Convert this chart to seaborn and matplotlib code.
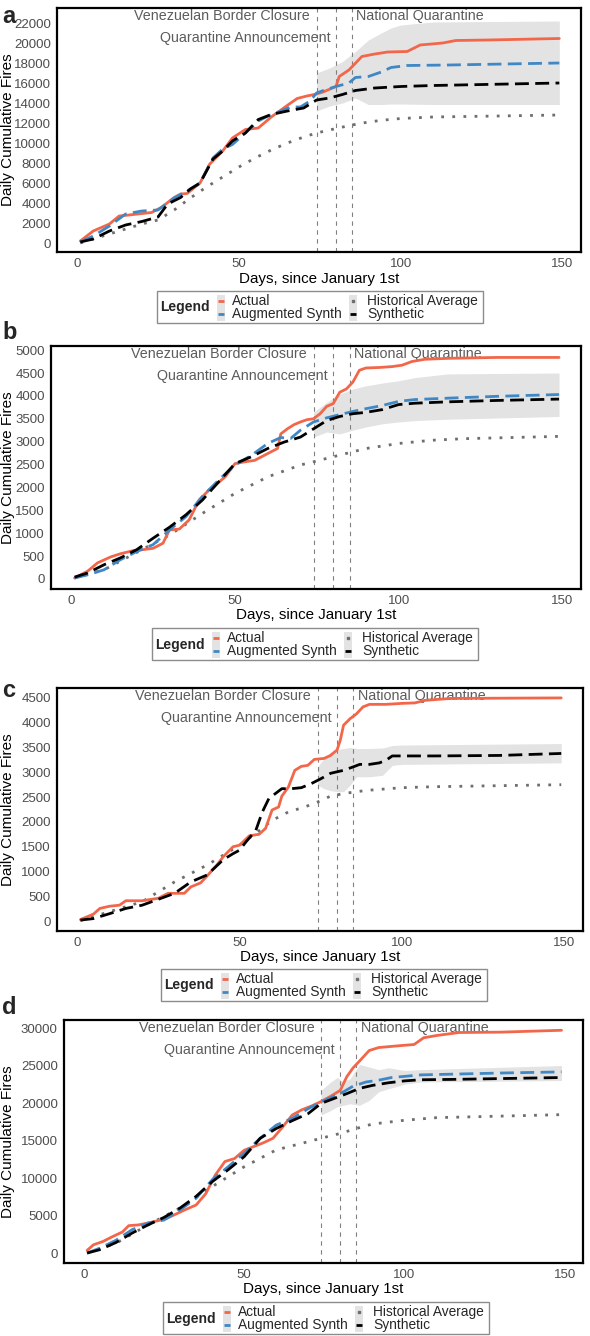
import matplotlib
matplotlib.use("Agg")
import matplotlib.pyplot as plt
import matplotlib.transforms as mtransforms
from matplotlib.lines import Line2D
from matplotlib.patches import Rectangle
import seaborn as sns
import pandas as pd

# ---------------- data ----------------
event_days = [74, 80, 85]

# panel a
a_act_days = [1, 5, 10, 13, 16, 23, 26, 30, 32, 34, 38, 41, 45, 48, 52, 56, 60, 66, 68, 71, 74, 76, 80, 81, 84, 88, 92, 96, 102, 106, 113, 117, 127, 149]
a_act = [200, 1200, 1900, 2700, 2800, 3050, 3550, 4550, 4900, 4950, 6000, 7900, 9200, 10500, 11350, 11500, 12600, 14000, 14450, 14700, 14900, 15100, 15650, 16650, 17300, 18650, 18900, 19100, 19150, 19800, 20000, 20250, 20300, 20450]
a_aug_days = [1, 5, 10, 15, 20, 25, 30, 35, 38, 42, 45, 48, 52, 56, 59, 63, 66, 69, 72, 74, 77, 80, 84, 86, 90, 94, 97, 102, 115, 149]
a_aug = [100, 700, 1700, 2900, 3200, 3300, 4500, 5400, 6000, 8500, 9400, 9850, 11000, 12200, 12700, 13200, 13600, 13600, 14200, 15000, 15350, 15650, 16000, 16550, 16650, 17100, 17550, 17750, 17800, 18000]
a_syn_days = [1, 5, 10, 15, 20, 25, 28, 32, 35, 38, 42, 45, 48, 52, 56, 60, 65, 70, 74, 78, 82, 86, 92, 100, 110, 149]
a_syn = [100, 400, 1200, 1800, 2150, 2600, 3900, 4550, 5400, 6000, 8400, 9200, 10200, 11000, 12350, 12850, 13200, 13500, 14300, 14500, 14850, 15250, 15500, 15650, 15750, 16000]
a_hist_days = [1, 10, 20, 25, 30, 35, 40, 45, 50, 55, 60, 65, 70, 74, 80, 85, 90, 95, 100, 110, 120, 130, 149]
a_hist = [0, 900, 1900, 2300, 3300, 4500, 5600, 6600, 7600, 8500, 9300, 10000, 10600, 11000, 11450, 11800, 12100, 12300, 12450, 12600, 12650, 12700, 12800]
a_band_days = [74, 78, 82, 86, 90, 94, 97, 100, 110, 149]
a_band_hi = [17000, 17500, 18150, 19150, 20300, 21000, 21500, 21800, 22100, 22200]
a_band_lo = [13200, 13700, 14000, 14500, 13850, 13850, 13900, 13900, 13850, 13850]

# panel b
b_act_days = [1, 5, 8, 12, 15, 19, 22, 25, 28, 30, 33, 36, 39, 42, 44, 47, 50, 53, 56, 60, 63, 64, 66, 68, 70, 72, 74, 76, 78, 80, 82, 84, 86, 88, 90, 94, 98, 101, 104, 108, 115, 130, 149]
b_act = [20, 170, 350, 480, 550, 620, 640, 670, 780, 1070, 1090, 1290, 1720, 1940, 2050, 2230, 2520, 2560, 2590, 2740, 2850, 3170, 3280, 3370, 3430, 3480, 3500, 3610, 3770, 3830, 4080, 4150, 4300, 4560, 4610, 4620, 4640, 4670, 4750, 4800, 4820, 4840, 4840]
b_aug_days = [1, 5, 10, 15, 20, 25, 30, 35, 40, 45, 50, 55, 60, 64, 67, 70, 74, 78, 82, 86, 90, 95, 100, 105, 115, 130, 149]
b_aug = [20, 90, 200, 420, 600, 750, 1070, 1360, 1800, 2160, 2490, 2700, 2960, 3090, 3070, 3250, 3430, 3520, 3590, 3660, 3720, 3790, 3880, 3920, 3950, 3990, 4030]
b_syn_days = [1, 5, 10, 15, 20, 25, 30, 35, 40, 45, 50, 55, 60, 65, 70, 74, 78, 82, 86, 90, 95, 100, 105, 115, 130, 149]
b_syn = [40, 130, 310, 460, 640, 890, 1130, 1400, 1720, 2120, 2520, 2670, 2850, 2990, 3100, 3280, 3460, 3550, 3610, 3640, 3700, 3810, 3840, 3870, 3900, 3930]
b_hist_days = [1, 10, 20, 30, 40, 50, 60, 70, 74, 80, 85, 90, 100, 110, 120, 149]
b_hist = [20, 200, 580, 960, 1430, 1870, 2230, 2490, 2560, 2670, 2760, 2850, 2960, 3030, 3065, 3115]
b_band_days = [74, 78, 82, 86, 90, 95, 100, 105, 115, 149]
b_band_hi = [3640, 3860, 4040, 4150, 4220, 4280, 4330, 4400, 4480, 4500]
b_band_lo = [3100, 3210, 3170, 3250, 3320, 3390, 3430, 3460, 3490, 3550]

# panel c (no augmented synth line)
c_act_days = [1, 5, 7, 10, 13, 15, 20, 25, 28, 30, 33, 35, 38, 40, 43, 45, 48, 50, 53, 56, 58, 60, 62, 63, 65, 67, 69, 71, 73, 76, 78, 80, 81, 82, 84, 86, 88, 90, 95, 100, 104, 107, 115, 149]
c_act = [30, 140, 255, 300, 320, 410, 410, 460, 560, 560, 560, 690, 770, 910, 1130, 1300, 1500, 1530, 1720, 1750, 1870, 2240, 2300, 2520, 2700, 3040, 3120, 3140, 3260, 3280, 3340, 3450, 3650, 3950, 4080, 4180, 4320, 4370, 4370, 4390, 4400, 4450, 4490, 4500]
c_syn_days = [1, 5, 10, 15, 20, 25, 30, 35, 40, 45, 48, 50, 52, 55, 57, 59, 61, 63, 66, 69, 72, 75, 78, 82, 85, 87, 90, 93, 95, 97, 100, 110, 130, 149]
c_syn = [20, 50, 150, 255, 320, 440, 560, 790, 930, 1240, 1360, 1430, 1600, 1830, 2200, 2470, 2570, 2670, 2670, 2690, 2770, 2870, 2980, 3040, 3110, 3160, 3160, 3190, 3240, 3330, 3330, 3330, 3340, 3380]
c_hist_days = [1, 10, 20, 30, 40, 50, 55, 60, 65, 70, 74, 78, 82, 86, 90, 100, 110, 120, 149]
c_hist = [10, 190, 390, 790, 1130, 1530, 1770, 2030, 2200, 2300, 2400, 2520, 2570, 2610, 2640, 2690, 2710, 2720, 2750]
c_band_days = [74, 76, 78, 80, 82, 84, 86, 90, 94, 97, 100, 149]
c_band_hi = [3110, 3280, 3410, 3460, 3480, 3500, 3480, 3480, 3490, 3540, 3550, 3580]
c_band_lo = [2740, 2670, 2630, 2610, 2610, 2740, 2910, 2910, 2940, 3140, 3160, 3190]

# panel d
d_act_days = [1, 3, 6, 9, 12, 14, 17, 20, 23, 26, 29, 32, 35, 38, 41, 44, 47, 50, 53, 56, 59, 62, 65, 68, 71, 74, 77, 80, 82, 84, 86, 89, 92, 96, 100, 103, 106, 110, 117, 130, 149]
d_act = [350, 1100, 1550, 2200, 2800, 3650, 3750, 4000, 4300, 4650, 5250, 5850, 6400, 7900, 10400, 12200, 12600, 13700, 14200, 14700, 15300, 16800, 18400, 19100, 19600, 20200, 20900, 21700, 23500, 24700, 25600, 27000, 27400, 27550, 27700, 27800, 28700, 29000, 29400, 29450, 29700]
d_aug_days = [1, 5, 10, 15, 20, 25, 30, 35, 40, 45, 50, 55, 60, 65, 70, 74, 78, 81, 84, 88, 92, 96, 100, 105, 115, 130, 149]
d_aug = [0, 650, 1700, 3100, 4000, 4400, 5750, 7300, 9750, 11500, 13300, 15300, 17050, 17950, 19250, 20150, 20900, 21500, 22250, 22800, 23050, 23400, 23550, 23750, 23850, 24000, 24150]
d_syn_days = [1, 5, 10, 15, 20, 25, 30, 35, 40, 45, 50, 55, 60, 65, 70, 74, 78, 82, 86, 90, 95, 100, 105, 115, 149]
d_syn = [0, 450, 1400, 2650, 3750, 4750, 6000, 7550, 9500, 11100, 12850, 15300, 16600, 17650, 18600, 19950, 20600, 21250, 21950, 22350, 22700, 22950, 23100, 23150, 23400]
d_hist_days = [1, 10, 20, 30, 40, 50, 60, 70, 74, 80, 85, 90, 100, 110, 120, 149]
d_hist = [0, 1300, 3750, 6000, 8850, 11500, 13750, 14850, 15300, 15950, 16600, 17200, 17700, 18050, 18150, 18450]
d_band_days = [74, 77, 79, 81, 83, 86, 89, 92, 95, 100, 105, 149]
d_band_hi = [21700, 22800, 23400, 22800, 23250, 25150, 24800, 24450, 24700, 24350, 24450, 25000]
d_band_lo = [18400, 19000, 19500, 19700, 19900, 19700, 20350, 21500, 21900, 22500, 22800, 23000]

# ---------------- style ----------------
W, H = 590, 1336
RED = "#F26749"
BLUE = "#3F88C5"
GREY = "#6E6E6E"
BAND = "#E3E3E3"
TXT = "#5C5C5C"
series_order = ["Historical Average", "Actual", "Augmented Synth", "Synthetic"]
palette = {"Actual": RED, "Augmented Synth": BLUE, "Historical Average": GREY, "Synthetic": "black"}
dashes = {"Actual": "", "Augmented Synth": (5, 2.3), "Historical Average": (1, 3), "Synthetic": (5, 2.3)}

sns.set_style("white")
plt.rcParams["font.family"] = ["Liberation Sans", "DejaVu Sans"]


def fx(x):
    return x / W


def fy(y):
    return 1 - y / H


def long_frame(parts):
    frames = []
    for name, days, vals in parts:
        frames.append(pd.DataFrame({"day": days, "fires": vals, "series": name}))
    return pd.concat(frames, ignore_index=True)


def draw_legend(fig, L, T):
    fig.add_artist(Rectangle((fx(L), fy(T + 32)), 326 / W, 32 / H, transform=fig.transFigure,
                             fill=False, ec="#8C8C8C", lw=1))
    fig.text(fx(L + 3), fy(T + 16.5), "Legend", weight="bold", size=10, ha="left", va="center")
    entries = [(0, 0, "Actual"), (0, 1, "Augmented Synth"), (1, 0, "Historical Average"), (1, 1, "Synthetic")]
    for col, row, name in entries:
        kx = L + (64 if col == 0 else 196)
        ky = T + 10 + 13 * row
        fig.add_artist(Rectangle((fx(kx - 4), fy(ky + 6.5)), 8 / W, 13 / H, transform=fig.transFigure,
                                 color=BAND, lw=0))
        if name == "Historical Average":
            fig.add_artist(Line2D([fx(kx)], [fy(ky)], transform=fig.transFigure, marker="s", ms=1.8,
                                  color=GREY, lw=0))
        else:
            fig.add_artist(Line2D([fx(kx - 3), fx(kx + 3)], [fy(ky), fy(ky)], transform=fig.transFigure,
                                  color=palette[name], lw=2, solid_capstyle="butt"))
        fig.text(fx(L + (75 if col == 0 else 210)), fy(ky), name, size=9.9, ha="left", va="center")


def draw_panel(fig, box, letter, letter_xy, df, band, ylim, yticks, legend_lt):
    left, right, top, bottom = box
    ax = fig.add_axes([fx(left), fy(bottom), (right - left) / W, (bottom - top) / H])
    ax.fill_between(band[0], band[2], band[1], color=BAND, lw=0, zorder=1)
    for d in event_days:
        ax.axvline(d, color="#808080", lw=0.8, ls=(0, (4, 4)), zorder=2)
    tr = mtransforms.blended_transform_factory(ax.transData, ax.transAxes)
    ax.text(72.0, 0.967, "Venezuelan Border Closure", transform=tr, ha="right", va="center",
            size=10.3, color=TXT, zorder=2)
    ax.text(78.2, 0.877, "Quarantine Announcement", transform=tr, ha="right", va="center",
            size=10.3, color=TXT, zorder=2)
    ax.text(86.3, 0.967, "National Quarantine", transform=tr, ha="left", va="center",
            size=10.3, color=TXT, zorder=2)
    present = [s for s in series_order if s in set(df["series"])]
    sns.lineplot(data=df, x="day", y="fires", hue="series", style="series", hue_order=present,
                 style_order=present, palette=palette, dashes=dashes, linewidth=2.0,
                 estimator=None, legend=False, ax=ax, zorder=3)
    ax.set_xlim(-6.2, 155.7)
    ax.set_ylim(*ylim)
    ax.set_xticks([0, 50, 100, 150])
    ax.set_yticks(yticks)
    ax.tick_params(length=3, width=0.8, color="#333333", labelcolor="#4D4D4D", labelsize=9.5, pad=1.5)
    for sp in ax.spines.values():
        sp.set_visible(True)
        sp.set_color("black")
        sp.set_linewidth(1.6)
    ax.set_xlabel("Days, since January 1st", size=10.9, color="black")
    ax.set_ylabel("Daily Cumulative Fires", size=11, color="black")
    ax.xaxis.label.set_va("center")
    ax.yaxis.label.set_va("center")
    ax.xaxis.set_label_coords(0.5, -26.5 / (bottom - top))
    ax.yaxis.set_label_coords((8.5 - left) / (right - left), 0.5)
    fig.text(fx(letter_xy[0]), fy(letter_xy[1]), letter, weight="bold", size=17, ha="left", va="baseline")
    draw_legend(fig, *legend_lt)
    return ax


fig = plt.figure(figsize=(W / 100, H / 100), dpi=100)

df_a = long_frame([("Historical Average", a_hist_days, a_hist), ("Actual", a_act_days, a_act),
                   ("Augmented Synth", a_aug_days, a_aug), ("Synthetic", a_syn_days, a_syn)])
df_b = long_frame([("Historical Average", b_hist_days, b_hist), ("Actual", b_act_days, b_act),
                   ("Augmented Synth", b_aug_days, b_aug), ("Synthetic", b_syn_days, b_syn)])
df_c = long_frame([("Historical Average", c_hist_days, c_hist), ("Actual", c_act_days, c_act),
                   ("Synthetic", c_syn_days, c_syn)])
df_d = long_frame([("Historical Average", d_hist_days, d_hist), ("Actual", d_act_days, d_act),
                   ("Augmented Synth", d_aug_days, d_aug), ("Synthetic", d_syn_days, d_syn)])

draw_panel(fig, (57, 581, 8, 252), "a", (2, 23), df_a, (a_band_days, a_band_hi, a_band_lo),
           (-900, 23500), range(0, 22001, 2000), (157, 291))
draw_panel(fig, (51, 581, 346, 589), "b", (2, 339), df_b, (b_band_days, b_band_hi, b_band_lo),
           (-220, 5090), range(0, 5001, 500), (152, 628))
draw_panel(fig, (57, 583, 688, 931), "c", (2, 697), df_c, (c_band_days, c_band_hi, c_band_lo),
           (-200, 4700), range(0, 4501, 500), (161, 969))
draw_panel(fig, (64, 583, 1020, 1263), "d", (2, 1014), df_d, (d_band_days, d_band_hi, d_band_lo),
           (-1330, 31070), range(0, 30001, 5000), (163, 1302))

fig.savefig("out.png", dpi=100)
